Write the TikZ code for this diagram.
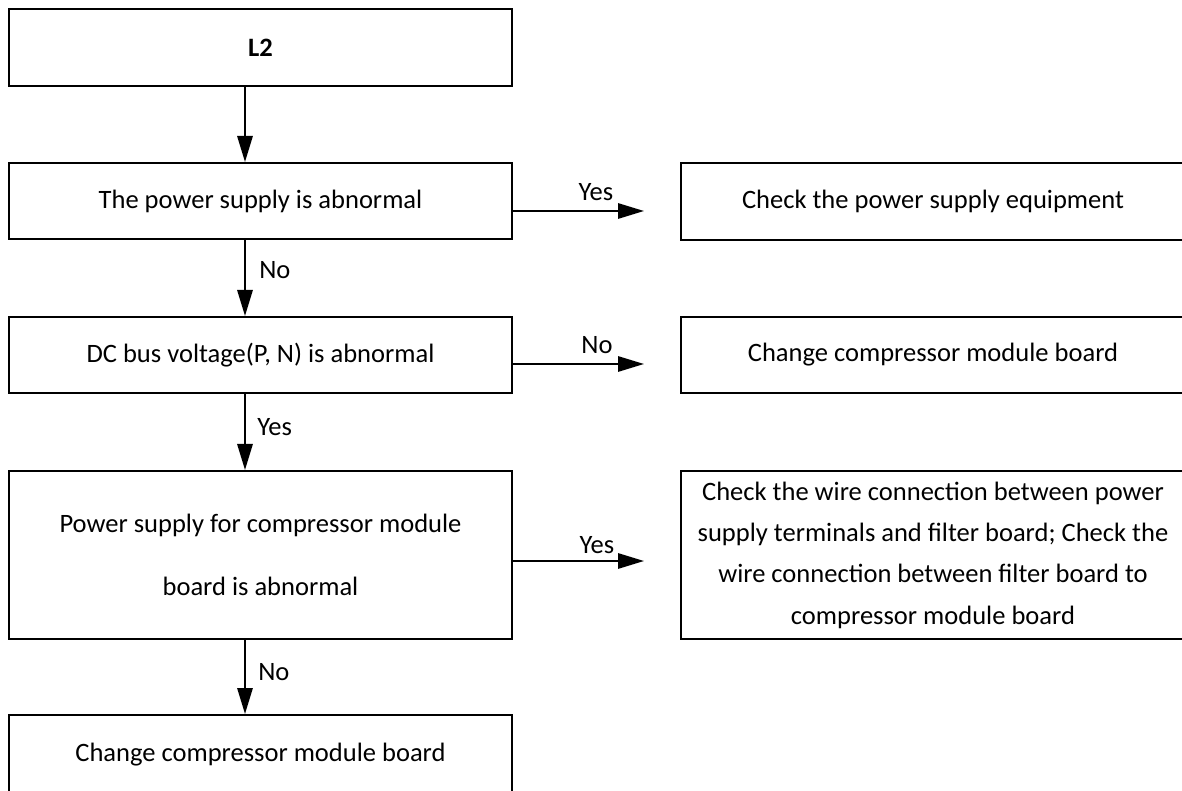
\documentclass[tikz,border=0pt]{standalone}
\usepackage{fontspec}
\setmainfont{Carlito}
\usetikzlibrary{arrows.meta}
\begin{document}
\begin{tikzpicture}[x=0.75pt,y=-0.75pt,
  box/.style={draw, line width=1.5pt, inner sep=0pt, align=center, anchor=north west,
    font=\fontsize{19.9}{23.9}\selectfont},
  lbox/.style={box, minimum width=377.25pt},
  rbox/.style={box, minimum width=378pt},
  arr/.style={line width=1.5pt, -{Triangle[length=19.5pt,width=11.5pt]}},
  lbl/.style={font=\fontsize{19.9}{23.9}\selectfont, inner sep=0pt}]
\useasboundingbox (0,0) rectangle (1182,791);
% left column
\node[lbox, minimum height=57.75pt] (l2) at (8,8) {\textbf{L2}};
\node[lbox, minimum height=57pt] (p1) at (8,162) {The power supply is abnormal};
\node[lbox, minimum height=57pt] (dc) at (8,316) {DC bus voltage(P, N) is abnormal};
\node[lbox, minimum height=126pt, font=\fontsize{19.9}{47.25}\selectfont] (b4) at (8,470)
  {Power supply for compressor module\\board is abnormal};
\node[lbox, minimum height=59.25pt] (b5) at (8,714) {Change compressor module board};
% right column
\node[rbox, minimum height=57.75pt] (r1) at (680,162) {Check the power supply equipment};
\node[rbox, minimum height=57pt] (r2) at (680,316) {Change compressor module board};
\node[rbox, minimum height=126pt, font=\fontsize{19.9}{31}\selectfont] (r3) at (680,470)
  {Check the wire connection between power\\supply terminals and filter board; Check the\\wire connection between filter board to\\compressor module board};
% helper coordinates
\coordinate (ax) at (245,0);
\coordinate (h1) at (0,211);
\coordinate (h2) at (0,364);
\coordinate (h3) at (0,561);
% vertical arrows
\draw[arr] (l2.south -| ax) -- (p1.north -| ax);
\draw[arr] (p1.south -| ax) -- (dc.north -| ax);
\draw[arr] (dc.south -| ax) -- (b4.north -| ax);
\draw[arr] (b4.south -| ax) -- (b5.north -| ax);
% horizontal arrows
\draw[arr, shorten >=27pt] (p1.east |- h1) -- (r1.west |- h1);
\draw[arr, shorten >=27pt] (dc.east |- h2) -- (r2.west |- h2);
\draw[arr, shorten >=27pt] (b4.east |- h3) -- (r3.west |- h3);
% labels
\node[lbl, anchor=west] (n1) at (259,270) {No};
\node[lbl, anchor=west] (y2) at (257,427) {Yes};
\node[lbl, anchor=west] (n3) at (258,672) {No};
\node[lbl] (y1) at (596,192) {Yes};
\node[lbl] (n2) at (597,345) {No};
\node[lbl] (y3) at (597,545) {Yes};
\end{tikzpicture}
\end{document}
